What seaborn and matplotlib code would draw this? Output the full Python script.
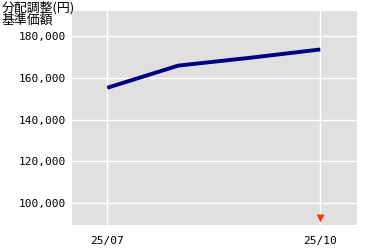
import matplotlib
matplotlib.use("Agg")
import matplotlib.pyplot as plt
import matplotlib.transforms as mtransforms
import seaborn as sns
import pandas as pd

# Data (month index from 2025/07)
month_pos = [0, 1, 2, 3]
nav_values = [155200, 165800, 169500, 173500]
x_tick_pos = [0, 1, 2, 3]
x_tick_labels = ["25/07", "", "", "25/10"]
y_ticks = [100000, 120000, 140000, 160000, 180000]
dividend_pos = [3]

sns.set_style("white")
plt.rcParams['font.family'] = ['Noto Sans CJK JP', 'DejaVu Sans']
plt.rcParams['text.color'] = 'black'
plt.rcParams['xtick.color'] = 'black'
plt.rcParams['ytick.color'] = 'black'

fig = plt.figure(figsize=(3.8, 2.5), dpi=100)
ax = fig.add_axes([72/380, 25/250, 285/380, 214/250])
ax.set_facecolor('#e0e0e0')

df = pd.DataFrame({"x": month_pos, "nav": nav_values})

ax.set_xlim(-0.497, 3.517)
ax.set_ylim(89600, 191900)

# grid lines
for yv in y_ticks:
    ax.axhline(yv, color='white', lw=1, zorder=1)
for xv in [0, 3]:
    ax.axvline(xv, color='white', lw=1, zorder=1)

sns.lineplot(data=df, x="x", y="nav", ax=ax, color='#000080', lw=2.8, zorder=3,
             solid_capstyle='butt', solid_joinstyle='round')

trans = mtransforms.blended_transform_factory(ax.transData, ax.transAxes)
ax.scatter(dividend_pos, [0.035] * len(dividend_pos), marker='v', s=32,
           color='#ff3300', transform=trans, zorder=4, linewidths=0, clip_on=False)

for s in ax.spines.values():
    s.set_visible(False)

ax.set_xticks(x_tick_pos)
ax.set_xticklabels(x_tick_labels, family='DejaVu Sans Mono', fontsize=8)
ax.set_yticks(y_ticks)
ax.set_yticklabels([f"{v:,}" for v in y_ticks], family='DejaVu Sans Mono', fontsize=8)
ax.tick_params(axis='x', length=2, width=1, color='black', labelcolor='black', pad=6)
ax.tick_params(axis='y', length=3, width=1, color='#d8d8d8', labelcolor='black', pad=1)
ax.set_xlabel("")
ax.set_ylabel("")

fig.text(2/380, 1 - 8/250, "分配調整(円)", fontsize=9.3, va='center', ha='left', color='black')
fig.text(2/380, 1 - 20.5/250, "基準価額", fontsize=9.3, va='center', ha='left', color='black')

fig.savefig("out.png", dpi=100)
